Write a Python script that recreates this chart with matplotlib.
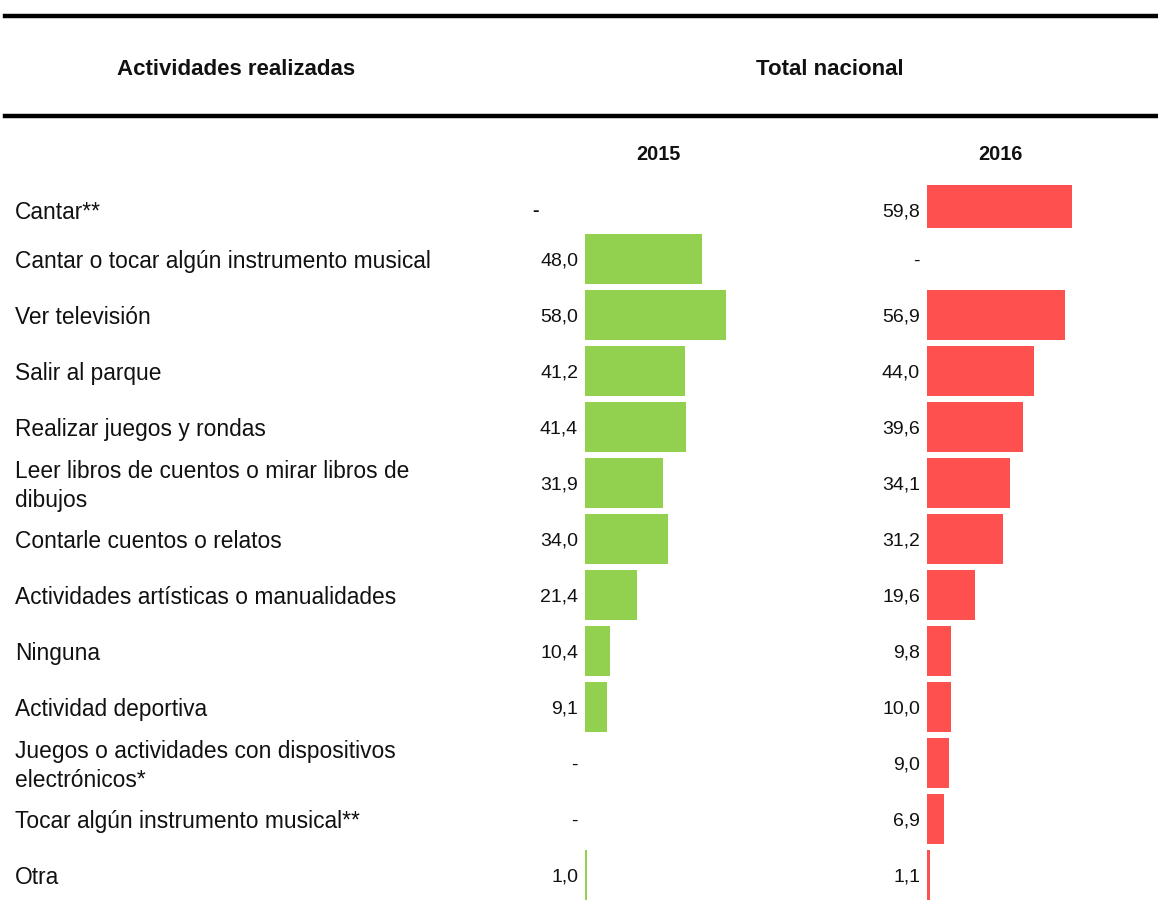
import matplotlib
matplotlib.use('Agg')
import matplotlib.pyplot as plt
from matplotlib.lines import Line2D
from matplotlib.transforms import blended_transform_factory

plt.rcParams['font.family'] = ['Liberation Sans', 'DejaVu Sans']

categories = [
    'Cantar**',
    'Cantar o tocar algún instrumento musical',
    'Ver televisión',
    'Salir al parque',
    'Realizar juegos y rondas',
    'Leer libros de cuentos o mirar libros de\ndibujos',
    'Contarle cuentos o relatos',
    'Actividades artísticas o manualidades',
    'Ninguna',
    'Actividad deportiva',
    'Juegos o actividades con dispositivos\nelectrónicos*',
    'Tocar algún instrumento musical**',
    'Otra',
]
values_2015 = [None, 48.0, 58.0, 41.2, 41.4, 31.9, 34.0, 21.4, 10.4, 9.1, None, None, 1.0]
values_2016 = [59.8, None, 56.9, 44.0, 39.6, 34.1, 31.2, 19.6, 9.8, 10.0, 9.0, 6.9, 1.1]
years = ['2015', '2016']

GREEN = '#92D050'
RED = '#FF5050'
TXT = '#111111'
W, H = 1158, 905
PX_PER_UNIT = 2.43
FS_LABEL = 16.4
FS_VAL = 14

fig = plt.figure(figsize=(W / 100, H / 100), dpi=100)

# bar panels (pixel geometry -> figure fractions)
top_px, bottom_px = 185, 900
ax_h = (bottom_px - top_px) / H
ax_b = (H - bottom_px) / H
ax_w_px = 220
ylim = (12.446, -0.321)

def row_dy(i):
    # first row of the table sits a bit lower than the regular pitch
    return -5 if i == 0 else 0

def make_panel(left_px, values, color):
    ax = fig.add_axes([left_px / W, ax_b, ax_w_px / W, ax_h])
    ax.set_xlim(0, ax_w_px / PX_PER_UNIT)
    ax.set_ylim(*ylim)
    ax.axis('off')
    for i, v in enumerate(values):
        if v is None:
            ax.annotate('-', (0, i), xytext=(-5, row_dy(i)), textcoords='offset points',
                        ha='right', va='center_baseline', fontsize=FS_VAL, color=TXT,
                        annotation_clip=False)
            continue
        ax.barh(i, v, height=0.893, color=color, left=0)
        ax.annotate(f'{v:.1f}'.replace('.', ','), (0, i), xytext=(-5, row_dy(i)),
                    textcoords='offset points', ha='right', va='center_baseline',
                    fontsize=FS_VAL, color=TXT, annotation_clip=False)
    return ax

ax1 = make_panel(585, values_2015, GREEN)
ax2 = make_panel(927, values_2016, RED)

# the lone bold dash for "Cantar**" in 2015 sits further left
ax1.texts[0].set_position((-33, row_dy(0)))
ax1.texts[0].set_fontweight('bold')

# category labels
tr = blended_transform_factory(fig.transFigure, ax1.transData)
for i, c in enumerate(categories):
    two_lines = '\n' in c
    ax1.annotate(c, (15 / W, i), xycoords=tr, xytext=(0, row_dy(i) - (2.3 if two_lines else 0)),
                 textcoords='offset points', ha='left',
                 va='center' if two_lines else 'center_baseline',
                 fontsize=FS_LABEL, color=TXT, linespacing=1.36,
                 annotation_clip=False)

# header rules
for y in (16, 116):
    fig.add_artist(Line2D([5 / W, 1.0], [1 - y / H, 1 - y / H], color='black',
                          linewidth=3.2, transform=fig.transFigure))

fig.text(236 / W, 1 - 67 / H, 'Actividades realizadas', ha='center', va='center_baseline',
         fontsize=16, fontweight='bold', color=TXT)
fig.text(830 / W, 1 - 67 / H, 'Total nacional', ha='center', va='center_baseline',
         fontsize=16, fontweight='bold', color=TXT)
fig.text(658 / W, 1 - 153 / H, years[0], ha='center', va='center_baseline',
         fontsize=14.3, fontweight='bold', color=TXT)
fig.text(1000 / W, 1 - 153 / H, years[1], ha='center', va='center_baseline',
         fontsize=14.3, fontweight='bold', color=TXT)

fig.savefig('out.png', dpi=100)
